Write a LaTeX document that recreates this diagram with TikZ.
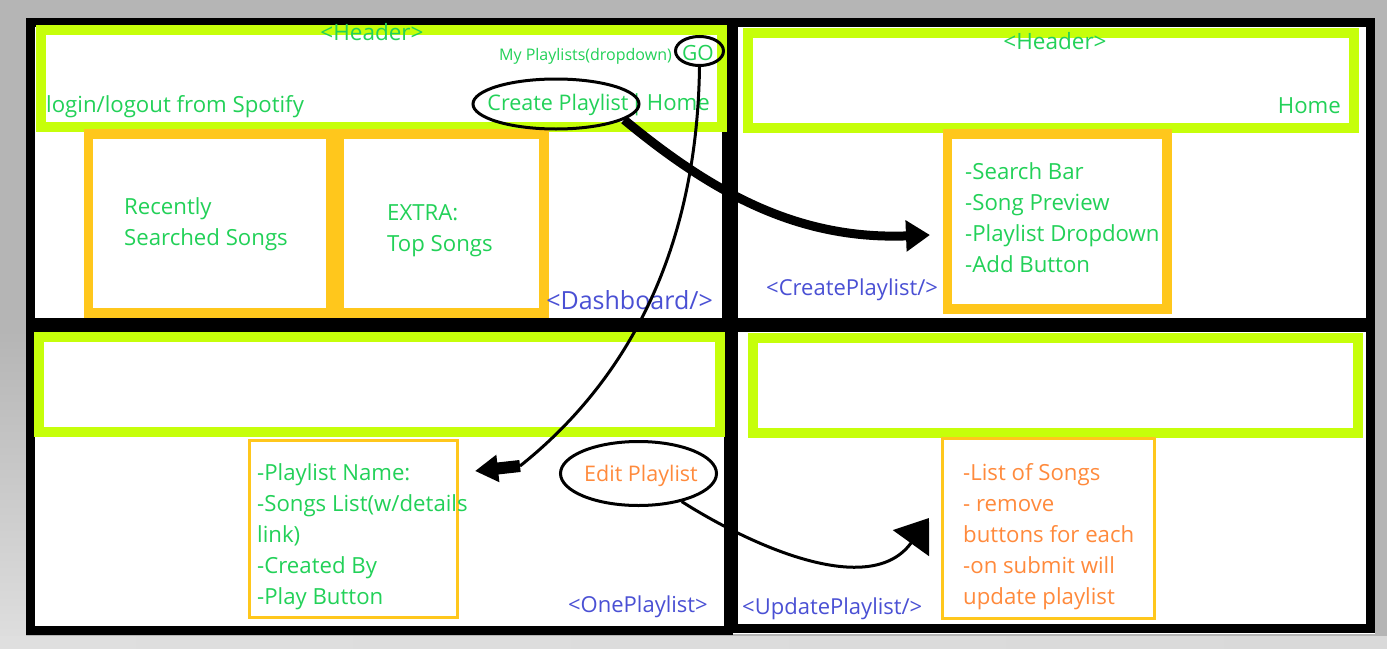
\documentclass[tikz,border=0pt]{standalone}
\usepackage{fontspec}
\setmainfont{Open Sans}
\usepackage{tikz}
\usetikzlibrary{shapes.geometric,arrows.meta}
\tikzset{>=stealth}
\usepackage{xcolor}
\definecolor{spgreen}{HTML}{22D158}
\definecolor{hdrlime}{HTML}{C6FF0A}
\definecolor{boxgold}{HTML}{FFC71C}
\definecolor{tagblue}{HTML}{4A50D4}
\definecolor{editorange}{HTML}{FF8A3C}
\definecolor{bggray}{HTML}{B5B5B5}
\tikzset{
  panel/.style={draw=black, line width=9pt},
  hdr/.style={draw=hdrlime, line width=10pt},
  gold/.style={draw=boxgold, line width=9.5pt},
  thingold/.style={draw=boxgold, line width=3pt},
  oval/.style={ellipse, draw, line width=3pt, inner sep=0pt},
  txt/.style={inner sep=0pt, text=spgreen, font=\fontsize{22.2}{31}\selectfont, align=left},
  tag/.style={inner sep=0pt, text=tagblue, font=\fontsize{22}{26}\selectfont},
}

\begin{document}
\begin{tikzpicture}[x=1pt,y=-1pt]
        \useasboundingbox (0,0) rectangle (1387,648);
        \fill[bggray] (0,0) rectangle (1387,648);
        \shade[top color=bggray, bottom color=gray!25] (0,330) rectangle (26,648);
        \shade[left color=gray!25, middle color=bggray, right color=gray!30] (0,636) rectangle (1387,648);
        \fill[white] (26,18) rectangle (1375,634);

        %panels
        \draw[panel] (30.5,22.5) rectangle (726.5,322.5);
        \draw[panel] (733.5,22.5) rectangle (1370.5,322.5);
        \draw[panel] (30.5,327.5) rectangle (728.5,630.5);
        \draw[panel] (733.5,327.5) rectangle (1370.5,628.5);

        %headers
        \draw[hdr] (40.5,30) rectangle (721.5,127);
        \draw[hdr] (747.5,33) rectangle (1353.5,128);
        \draw[hdr] (39,336.5) rectangle (719.5,432);
        \draw[hdr] (753,338) rectangle (1358,433);

        %content boxes
        \draw[gold] (88.5,134) rectangle (330.5,313);
        \draw[gold] (339.5,134) rectangle (544,313);
        \draw[gold] (947.5,134) rectangle (1167,309);
        \draw[thingold] (249.5,440.5) rectangle (457.5,617.5);
        \draw[thingold] (942.5,438.5) rectangle (1154.5,618.5);

        %header texts
        \node[txt, font=\fontsize{22.5}{26}\selectfont] (dashhead) at (372,32) {<Header>};
        \node[txt, font=\fontsize{16}{20}\selectfont, anchor=east] (mylists) at (672,56) {My Playlists(dropdown)};
        \node[txt, font=\fontsize{21}{26}\selectfont] (gotext) at (698,53) {GO};
        \node[txt, anchor=west] (login) at (46,107) {login/logout from Spotify};
        \node[txt, font=\fontsize{21.5}{26}\selectfont] (createtext) at (558,105) {Create Playlist};
        \node[txt, anchor=east] (dashhome) at (710,105) {|\kern4pt Home};
        \node[txt, font=\fontsize{22.5}{26}\selectfont] (createhead) at (1055,41) {<Header>};
        \node[txt, anchor=east] (createhome) at (1341,106) {Home};

        %box texts
        \node[txt, anchor=west] (recent) at (124,224) {Recently\\Searched Songs};
        \node[txt, anchor=west] (extra) at (387,231) {EXTRA:\\Top Songs};
        \node[txt, anchor=west] (searchlist) at (965,218) {-Search Bar\\-Song Preview\\-Playlist Dropdown\\-Add Button};
        \node[txt, anchor=west] (onelist) at (257,537) {-Playlist Name:\\-Songs List(w/details\\link)\\-Created By\\-Play Button};
        \node[txt, anchor=west, text=editorange] (updatelist) at (963,537) {-List of Songs\\- remove\\buttons for each\\-on submit will\\update playlist};
        \node[txt, text=editorange, font=\fontsize{21.5}{26}\selectfont] (edittext) at (641,476) {Edit Playlist};

        %component tags
        \node[tag, font=\fontsize{25}{30}\selectfont, anchor=east] (dashtag) at (713,300) {<Dashboard/>};
        \node[tag, anchor=west] (createtag) at (766,290) {<CreatePlaylist/>};
        \node[tag, anchor=east] (onetag) at (708,607) {<OnePlaylist>};
        \node[tag, anchor=west] (updatetag) at (742,609) {<UpdatePlaylist/>};

        %ovals
        \node[oval, minimum width=48pt, minimum height=29pt] (gooval) at (699.5,51) {};
        \node[oval, minimum width=166pt, minimum height=50pt] (createoval) at (556,104) {};
        \node[oval, minimum width=156pt, minimum height=64pt] (editoval) at (638.5,473.5) {};

        %links
        \coordinate (createtip) at (930,235);
        \coordinate (onejoin) at (520,466);
        \coordinate (onetip) at (475,471);
        \coordinate (updatetip) at (929,518);
        \draw[line width=9pt, -{Triangle[length=24pt,width=30pt]}] (createoval.-13) .. controls (715,195) and (800,240) .. (createtip);
        \draw[line width=3pt] (gooval.south) .. controls (697,250) and (628,380) .. (onejoin);
        \draw[line width=12pt, -{Triangle[length=23pt,width=26pt]}] (onejoin) -- (onetip);
        \draw[line width=3pt, -{Triangle[length=31pt,width=44pt]}] (editoval.-33) .. controls (750,545) and (870,600) .. (updatetip);

    \end{tikzpicture}
\end{document}
